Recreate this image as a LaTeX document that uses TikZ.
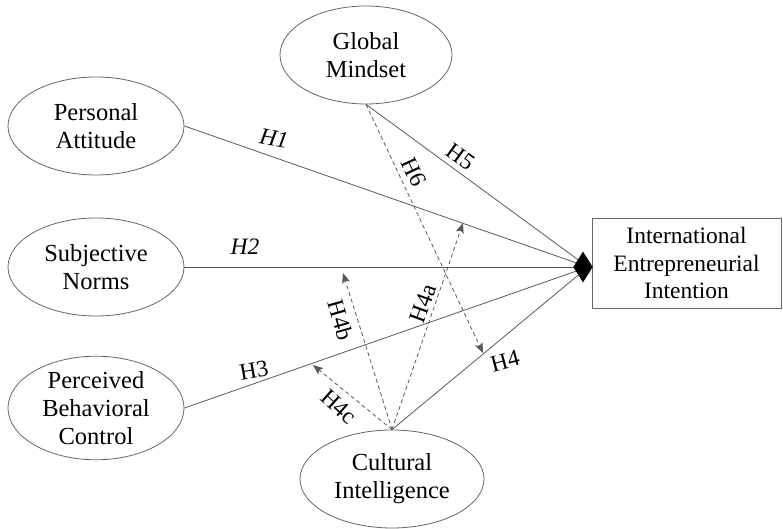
\documentclass[tikz,border=0pt]{standalone}
\usepackage{fontspec}
\setmainfont{Liberation Serif}
\usetikzlibrary{shapes.geometric,arrows.meta}
\begin{document}
\begin{tikzpicture}[x={(1pt,0)},y={(0,-1pt)},
  lc/.style={draw=black!60, line width=0.8pt},
  construct/.style={ellipse, lc, inner sep=0pt, align=center,
    font=\fontsize{24.5}{28}\selectfont, minimum height=98pt},
  path/.style={draw=black!65, line width=0.8pt},
  modpath/.style={draw=black!65, line width=0.8pt, dash pattern=on 4pt off 3pt,
    -{Stealth[length=10pt,width=8pt,inset=2pt]}},
  hlab/.style={font=\fontsize{23.5}{27}\selectfont, inner sep=0pt}
]
\useasboundingbox (0,0) rectangle (783,529);

\node[construct, minimum width=172pt] (gm) at (366,55) {Global\\Mindset};
\node[construct, minimum width=176pt] (pa) at (96,126) {Personal\\Attitude};
\node[construct, minimum width=176pt] (sn) at (96,267) {Subjective\\Norms};
\node[construct, minimum width=176pt] (pbc) at (96,408) {Perceived\\Behavioral\\Control};
\node[construct, minimum width=184pt] (ci) at (392,479) {Cultural\\Intelligence};

\node[rectangle, lc, minimum width=189pt, minimum height=90pt, inner sep=0pt,
  align=center, font=\fontsize{23.5}{27.5}\selectfont] (iei) at (686.5,263)
  {International\\Entrepreneurial\\Intention};
\coordinate (tip) at (588,267);

% main paths
\draw[path] (pa.east) -- (tip);
\draw[path] (sn.east) -- (tip);
\draw[path] (pbc.east) -- (tip);
\draw[path] (gm.south) -- (tip);
\draw[path] (ci.north) -- (tip);

\node[diamond, fill=black, draw=black, minimum width=19pt, minimum height=30pt, inner sep=0pt] (dm) at (583,267) {};

% moderating / mediating paths
\coordinate (h6end) at (483,353);
\coordinate (h4aend) at (463,223);
\coordinate (h4bend) at (343,273);
\coordinate (h4cend) at (313,365);
\draw[modpath] (gm.south) -- (h6end);
\draw[modpath] (ci.north) -- (h4aend);
\draw[modpath] (ci.north) -- (h4bend);
\draw[modpath] (ci.north) -- (h4cend);

% labels
\node[hlab, rotate=-10] (l1) at (274,138) {\itshape H1};
\node[hlab] (l2) at (245,247) {\itshape H2};
\node[hlab, rotate=10] (l3) at (254,370) {H3};
\node[hlab, rotate=15] (l4) at (505,361) {H4};
\node[hlab, rotate=-36] (l5) at (461,157) {H5};
\node[hlab, rotate=-65] (l6) at (414,172) {H6};
\node[hlab, rotate=70] (l4a) at (423,303) {H4a};
\node[hlab, rotate=-74] (l4b) at (341,320) {H4b};
\node[hlab, rotate=-42] (l4c) at (339,407) {H4c};
\end{tikzpicture}
\end{document}
